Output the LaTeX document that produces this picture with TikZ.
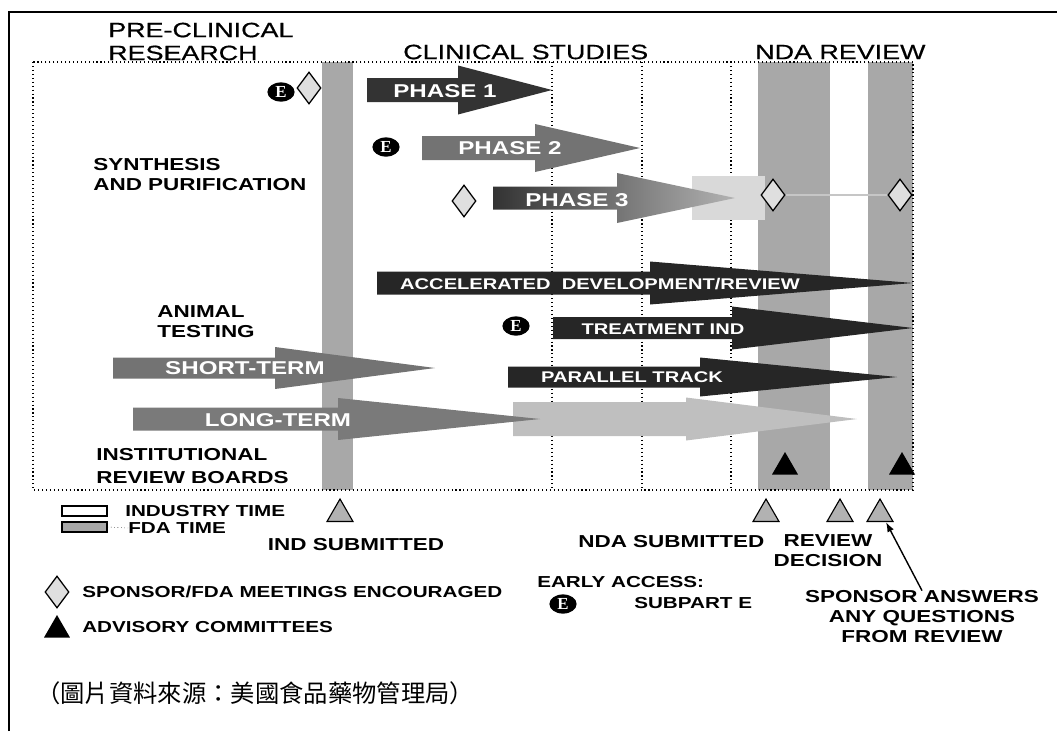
\documentclass[tikz,border=0pt]{standalone}
\usepackage{fontspec}
\setmainfont{Liberation Sans}
\newfontfamily\hdfont{Liberation Sans}[FakeStretch=1.3, FakeBold=0.6]
\newfontfamily\bkfont{Liberation Sans}[FakeStretch=1.3]
\newfontfamily\efont{Liberation Serif}
\newfontfamily\cjk{Noto Sans CJK TC}
\usetikzlibrary{shapes.geometric,arrows.meta}

\definecolor{fdagray}{gray}{0.66}

% x0 = tail, x1 = start of head, x2 = tip, yc = middle, body/head half widths
\newcommand{\bigarrow}[7]{%
  \path[#7] (#1,#4-#5) -- (#2,#4-#5) -- (#2,#4-#6) -- (#3,#4) -- (#2,#4+#6) -- (#2,#4+#5) -- (#1,#4+#5) -- cycle;}

\tikzset{
  title/.style={font=\hdfont\fontsize{14.7}{16.3}\selectfont, align=left, anchor=west, inner sep=0},
  side/.style={font=\bkfont\bfseries\fontsize{12.3}{14.2}\selectfont, align=left, anchor=west, inner sep=0},
  lgd/.style={font=\bkfont\bfseries\fontsize{11.3}{14}\selectfont, anchor=west, inner sep=0},
  onarrow/.style={font=\bkfont\bfseries\fontsize{13.2}{15}\selectfont, text=white, inner sep=0},
  onsmall/.style={onarrow, font=\bkfont\bfseries\fontsize{11}{13}\selectfont},
  early/.style={ellipse, fill=black, text=white, minimum width=0.68cm, minimum height=0.48cm, inner sep=0, font=\efont\bfseries\fontsize{12}{12}\selectfont},
  meet/.style={diamond, draw=black, line width=0.9pt, fill=gray!25, minimum width=0.6cm, minimum height=0.8cm, inner sep=0},
  advis/.style={regular polygon, regular polygon sides=3, fill=black, minimum size=0.75cm, inner sep=0},
  milestone/.style={advis, fill=gray!60, draw=black, line width=0.8pt},
  grid/.style={dotted, line width=0.8pt}
}

\begin{document}
\begin{tikzpicture}[x=0.025cm, y=-0.025cm]
  \useasboundingbox (0,0) rectangle (1057,731);
  \draw[line width=1.2pt] (9,731) -- (9,12) -- (1057,12);

  % fda time columns
  \fill[fdagray] (322,62) rectangle (353,490);
  \fill[fdagray] (758,62) rectangle (830,490);
  \fill[fdagray] (868,62) rectangle (913,490);

  \draw[grid] (33,62) rectangle (913,490);
  \foreach \gx in {552,642,731}
    \draw[grid] (\gx,62) -- (\gx,490);

  \node[title] (pre) at (108,41.5) {PRE-CLINICAL\\RESEARCH};
  \node[title] (clin) at (403,52) {CLINICAL STUDIES};
  \node[title] (nda) at (755,52) {NDA REVIEW};

  \node[side] (synth) at (93,175) {SYNTHESIS\\AND PURIFICATION};
  \node[side] (animal) at (157,322) {ANIMAL\\TESTING};
  \node[side] (irb) at (96,466) {INSTITUTIONAL\\[2pt]REVIEW BOARDS};

  % arrows
  \path[fill=black!15] (692,176) -- (765,176) -- (765,220) -- (692,220) -- cycle;
  \bigarrow{367}{458}{552}{90}{12}{24.5}{fill=black!80}
  \bigarrow{422}{535}{640}{148}{12}{24}{fill=black!55}
  \bigarrow{493}{617}{735}{198}{11.5}{25}{left color=black!80, right color=black!30}
  \bigarrow{377}{650}{913}{283}{11.5}{21.5}{fill=black!85}
  \bigarrow{553}{732}{913}{328}{11}{21.5}{fill=black!85}
  \bigarrow{508}{700}{897}{377}{10.5}{19.5}{fill=black!85}
  \bigarrow{113}{275}{435}{368}{10.5}{21}{fill=black!55}
  \bigarrow{513}{686}{857}{419}{17}{21.5}{fill=black!25}
  \bigarrow{133}{338}{540}{419}{11.5}{21}{fill=black!52}

  \node[onarrow] (ph1) at (445,91) {PHASE 1};
  \node[onarrow] (ph2) at (510,148) {PHASE 2};
  \node[onarrow] (ph3) at (577,200) {PHASE 3};
  \node[onsmall] (accel) at (600,284) {ACCELERATED\ \ DEVELOPMENT/REVIEW};
  \node[onsmall] (tind) at (663,329) {TREATMENT IND};
  \node[onsmall] (ptrack) at (632,377) {PARALLEL TRACK};
  \node[onarrow] (short) at (245,368) {SHORT-TERM};
  \node[onarrow] (long) at (278,420) {LONG-TERM};

  % meetings and early access
  \node[early] (e1) at (281,92) {E};
  \node[early] (e2) at (386,147) {E};
  \node[early] (e3) at (516,326) {E};
  \node[meet] (m1) at (309,88) {};
  \node[meet] (m2) at (464,201) {};
  \node[meet] (m3) at (773,195) {};
  \node[meet] (m4) at (900,195) {};
  \draw[gray!45, line width=2pt] (m3) -- (m4);

  \node[advis] (ac1) at (785,467) {};
  \node[advis] (ac2) at (902,467) {};

  % milestones
  \node[milestone] (t1) at (340,514) {};
  \node[milestone] (t2) at (766,514) {};
  \node[milestone] (t3) at (840,514) {};
  \node[milestone] (t4) at (880,514) {};
  \node[side, anchor=center] (indsub) at (356,545) {IND SUBMITTED};
  \node[side] (ndasub) at (578,542) {NDA SUBMITTED};
  \node[side, anchor=center, align=center] (revdec) at (828,551) {REVIEW\\DECISION};
  \node[side, anchor=center, align=center] (ans) at (922,617) {SPONSOR ANSWERS\\ANY QUESTIONS\\FROM REVIEW};
  \draw[-{Latex[length=7pt,width=5pt]}, line width=1pt] (ans.north) -- ([xshift=0.15cm]t4.south);

  % legend
  \node[draw, line width=0.8pt, minimum width=1.125cm, minimum height=0.25cm, inner sep=0] (indbox) at (84.5,511) {};
  \node[draw, line width=0.8pt, fill=fdagray, minimum width=1.125cm, minimum height=0.25cm, inner sep=0] (fdabox) at (84.5,527) {};
  \node[lgd] (indtxt) at (125,511) {INDUSTRY TIME};
  \node[lgd] (fdatxt) at (128,528) {FDA TIME};
  \draw[dotted] (fdabox.east) -- (fdatxt.west);
  \node[meet] (lm) at (57,592) {};
  \node[lgd] (lmtxt) at (82,592) {SPONSOR/FDA MEETINGS ENCOURAGED};
  \node[advis] (la) at (57,630) {};
  \node[lgd] (latxt) at (82,627) {ADVISORY COMMITTEES};
  \node[lgd] (eatxt) at (537,582) {EARLY ACCESS:};
  \node[early] (le) at (563,604) {E};
  \node[lgd] (subtxt) at (634,603) {SUBPART E};

  \node[anchor=west, inner sep=0, font=\cjk\fontsize{17.3}{18}\selectfont] (src) at (36,693) {（圖片資料來源：美國食品藥物管理局）};
\end{tikzpicture}
\end{document}
